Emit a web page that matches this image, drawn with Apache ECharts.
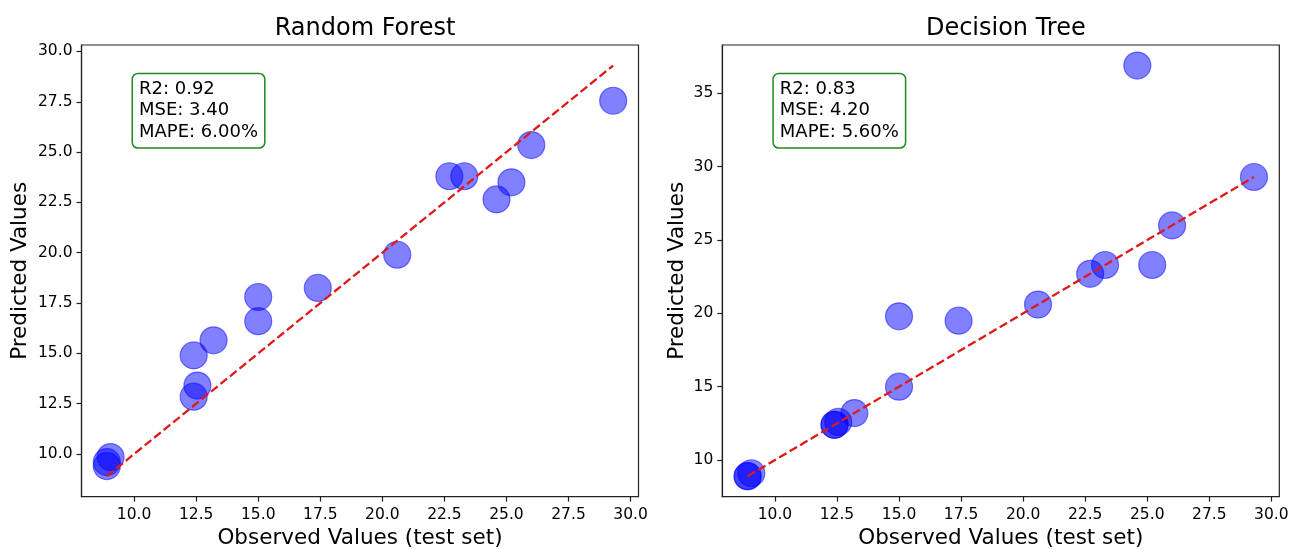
<!DOCTYPE html>
<html>
<head>
<meta charset="utf-8">
<script src="https://cdn.jsdelivr.net/npm/echarts@6/dist/echarts.min.js"></script>
<style>
  html, body { margin: 0; padding: 0; background: #fff; }
  #chart { width: 1291px; height: 549px; }
</style>
</head>
<body>
<div id="chart"></div>
<script>
// ---- data ----
const titles = ['Random Forest', 'Decision Tree'];
const observed = [8.9, 8.9, 9.05, 12.4, 12.55, 12.4, 13.2, 15.0, 15.0, 17.4, 20.6, 22.7, 23.3, 24.6, 25.2, 26.0, 29.3];
const rfPred   = [9.4, 9.6, 9.85, 12.85, 13.4, 14.9, 15.65, 16.6, 17.8, 18.25, 19.9, 23.8, 23.8, 22.65, 23.5, 25.35, 27.55];
const dtPred   = [8.9, 8.9, 9.1, 12.4, 12.6, 12.4, 13.2, 15.0, 19.8, 19.5, 20.6, 22.7, 23.3, 36.9, 23.3, 26.0, 29.3];
const xTicks   = [10, 12.5, 15, 17.5, 20, 22.5, 25, 27.5, 30];
const rfYTicks = [10, 12.5, 15, 17.5, 20, 22.5, 25, 27.5, 30];
const dtYTicks = [10, 15, 20, 25, 30, 35];
const rfMetrics = [0.92, 3.40, 6.00];  // R2, MSE, MAPE %
const dtMetrics = [0.83, 4.20, 5.60];
const xLabel = 'Observed Values (test set)';
const yLabel = 'Predicted Values';

// ---- helpers ----
const FONT = '"DejaVu Sans", sans-serif';
function limits(arr) {
  const lo = Math.min(...arr), hi = Math.max(...arr);
  const m = (hi - lo) * 0.05;
  return [lo - m, hi + m];
}
const oMin = Math.min(...observed), oMax = Math.max(...observed);
const idLine = [[oMin, oMin], [oMax, oMax]];
const xLim = limits(observed);
const rfYLim = limits(rfPred.concat([oMin, oMax]));
const dtYLim = limits(dtPred.concat([oMin, oMax]));

const gridsPos = [
  { left: 81.5, top: 45, width: 557, height: 451.7 },
  { left: 722.3, top: 45, width: 557, height: 451.7 }
];
const frameColor = '#222';

function xAxisCfg(gi) {
  return {
    gridIndex: gi, type: 'value', min: xLim[0], max: xLim[1],
    axisLine: { show: true, onZero: false, lineStyle: { color: frameColor, width: 1.2 } },
    axisTick: { show: true, customValues: xTicks, length: 5, lineStyle: { color: frameColor, width: 1.2 } },
    axisLabel: { customValues: xTicks, formatter: v => Number(v).toFixed(1), fontSize: 15.5, color: '#000', fontFamily: FONT, margin: 10 },
    splitLine: { show: false },
    name: xLabel, nameLocation: 'middle', nameGap: 29,
    nameTextStyle: { fontSize: 21.5, color: '#000', fontFamily: FONT }
  };
}
function yAxisCfg(gi, lim, ticks, fmt, gap) {
  return {
    gridIndex: gi, type: 'value', min: lim[0], max: lim[1],
    axisLine: { show: true, onZero: false, lineStyle: { color: frameColor, width: 1.2 } },
    axisTick: { show: true, customValues: ticks, length: 5, lineStyle: { color: frameColor, width: 1.2 } },
    axisLabel: { customValues: ticks, formatter: fmt, fontSize: 15.5, color: '#000', fontFamily: FONT, margin: 9 },
    splitLine: { show: false },
    name: yLabel, nameLocation: 'middle', nameGap: gap,
    nameTextStyle: { fontSize: 21.5, color: '#000', fontFamily: FONT }
  };
}
function scatter(gi, preds) {
  return {
    type: 'scatter', xAxisIndex: gi, yAxisIndex: gi,
    data: observed.map((o, i) => [o, preds[i]]),
    symbol: 'circle', symbolSize: 27,
    itemStyle: { color: 'rgba(0,0,255,0.62)', borderColor: 'rgba(0,0,255,0.62)', borderWidth: 1.2 },
    emphasis: { disabled: true }, z: 2
  };
}
function refLine(gi) {
  return {
    type: 'line', xAxisIndex: gi, yAxisIndex: gi, data: idLine,
    symbol: 'none', lineStyle: { color: '#e01818', width: 2.3, type: [8.5, 3.7] },
    z: 3, silent: true
  };
}
function box(gi, m) {
  const lines = ['R2: ' + m[0].toFixed(2), 'MSE: ' + m[1].toFixed(2), 'MAPE: ' + m[2].toFixed(2) + '%'];
  return {
    type: 'text', left: gridsPos[gi].left + 50, top: 72.7, z: 100,
    style: {
      text: lines.join('\n'), font: '18px ' + FONT, fill: '#000', lineHeight: 21.7,
      backgroundColor: '#fff', borderColor: '#1f8a1f', borderWidth: 1.5, borderRadius: 5,
      padding: [4, 6, 4, 6]
    }
  };
}

const chart = echarts.init(document.getElementById('chart'), null, { renderer: 'canvas' });
chart.setOption({
  animation: false,
  backgroundColor: '#fff',
  title: titles.map((t, i) => ({
    text: t, left: gridsPos[i].left + gridsPos[i].width / 2, top: 12, textAlign: 'center',
    textStyle: { fontSize: 24, fontWeight: 'normal', color: '#000', fontFamily: FONT }
  })),
  grid: gridsPos.map(g => Object.assign({
    show: true, borderColor: frameColor, borderWidth: 1.2, backgroundColor: 'transparent',
    containLabel: false, outerBoundsMode: 'none'
  }, g)),
  xAxis: [xAxisCfg(0), xAxisCfg(1)],
  yAxis: [
    yAxisCfg(0, rfYLim, rfYTicks, v => Number(v).toFixed(1), 50),
    yAxisCfg(1, dtYLim, dtYTicks, v => String(Math.round(v)), 34)
  ],
  series: [scatter(0, rfPred), refLine(0), scatter(1, dtPred), refLine(1)],
  graphic: [box(0, rfMetrics), box(1, dtMetrics)]
});
</script>
</body>
</html>
